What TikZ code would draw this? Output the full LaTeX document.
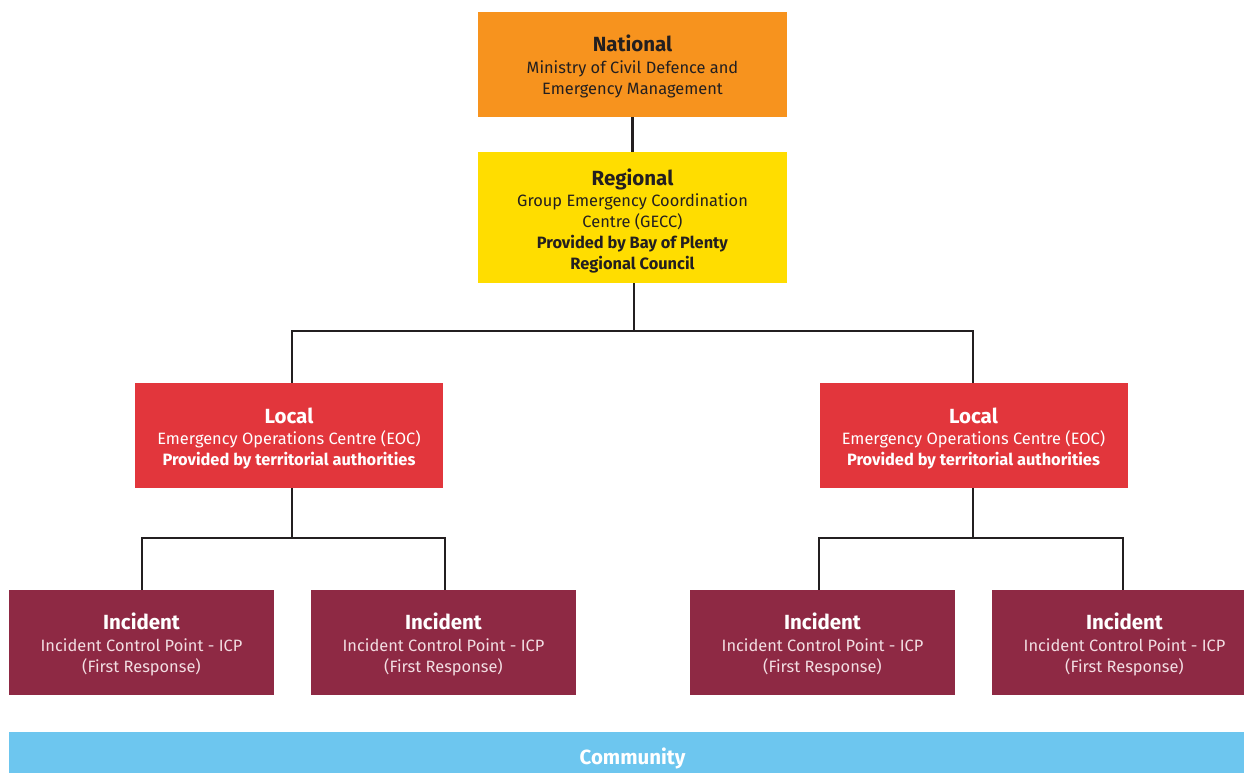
\documentclass[tikz,border=0pt]{standalone}
\usepackage{fontspec}
\setmainfont{Fira Sans}
\definecolor{cnat}{HTML}{F7931E}
\definecolor{creg}{HTML}{FFDD00}
\definecolor{cloc}{HTML}{E2363C}
\definecolor{cinc}{HTML}{8E2944}
\definecolor{ccom}{HTML}{6DC6EF}
\definecolor{ctxt}{HTML}{231F20}
\definecolor{cinctxt}{HTML}{F2DDE2}
\tikzset{
  box/.style={rectangle, inner sep=0pt, align=center, font=\fontsize{16.4}{21.2}\selectfont},
  natbox/.style={box, fill=cnat, minimum width=309pt, minimum height=105pt},
  regbox/.style={box, fill=creg, minimum width=309pt, minimum height=131pt},
  locbox/.style={box, fill=cloc, minimum width=308pt, minimum height=105pt},
  incbox/.style={box, fill=cinc, minimum width=265pt, minimum height=105pt},
  combox/.style={box, fill=ccom, minimum width=1235pt, minimum height=41pt},
  conn/.style={draw=ctxt, line width=2.4pt}
}
\newcommand{\ttlt}[1]{{\fontsize{20.5}{23}\selectfont\bfseries #1}}
\begin{document}
\begin{tikzpicture}[x=1pt,y=-1pt]
\useasboundingbox (0,0) rectangle (1244,773);
\node[natbox] (nat) at (632.5,64.5) {};
\node[box, text=ctxt] (natT) at (632.5,66.5) {\ttlt{National}\\[0pt]Ministry of Civil Defence and\\Emergency Management};
\node[regbox] (reg) at (632.5,217.5) {};
\node[box, text=ctxt] (regT) at (632.5,221) {\ttlt{Regional}\\[0pt]Group Emergency Coordination\\Centre (GECC)\\\textbf{Provided by Bay of Plenty}\\\textbf{Regional Council}};
\node[locbox] (locL) at (289,435.5) {};
\node[box, text=white] (locLT) at (289,438.5) {\ttlt{Local}\\[0pt]Emergency Operations Centre (EOC)\\\textbf{Provided by territorial authorities}};
\node[locbox] (locR) at (973.5,435.5) {};
\node[box, text=white] (locRT) at (973.5,438.5) {\ttlt{Local}\\[0pt]Emergency Operations Centre (EOC)\\\textbf{Provided by territorial authorities}};
\node[incbox] (inc1) at (141.5,642.5) {};
\node[box, text=cinctxt] (inc1T) at (141.5,644.5) {\textcolor{white}{\ttlt{Incident}}\\[0pt]Incident Control Point - ICP\\(First Response)};
\node[incbox] (inc2) at (443.5,642.5) {};
\node[box, text=cinctxt] (inc2T) at (443.5,644.5) {\textcolor{white}{\ttlt{Incident}}\\[0pt]Incident Control Point - ICP\\(First Response)};
\node[incbox] (inc3) at (822.5,642.5) {};
\node[box, text=cinctxt] (inc3T) at (822.5,644.5) {\textcolor{white}{\ttlt{Incident}}\\[0pt]Incident Control Point - ICP\\(First Response)};
\node[incbox] (inc4) at (1124.5,642.5) {};
\node[box, text=cinctxt] (inc4T) at (1124.5,644.5) {\textcolor{white}{\ttlt{Incident}}\\[0pt]Incident Control Point - ICP\\(First Response)};
\node[combox] (com) at (626.5,752.5) {};
\node[box, text=white] (comT) at (632.5,758.5) {\ttlt{Community}};
% connectors
\draw[conn] (nat.south) -- (reg.north);
\coordinate (regbus) at (634,331);
\draw[conn] (reg.south -| regbus) -- (regbus);
\draw[conn] (locL.north -| 292,0) -- (292,331) -- (973,331) -- (locR.north -| 973,0);
\draw[conn] (locL.south -| 292,0) -- (292,538);
\draw[conn] (inc1.north -| 142,0) -- (142,538) -- (445,538) -- (inc2.north -| 445,0);
\draw[conn] (locR.south -| 973,0) -- (973,538);
\draw[conn] (inc3.north -| 819,0) -- (819,538) -- (1123,538) -- (inc4.north -| 1123,0);
\end{tikzpicture}
\end{document}
